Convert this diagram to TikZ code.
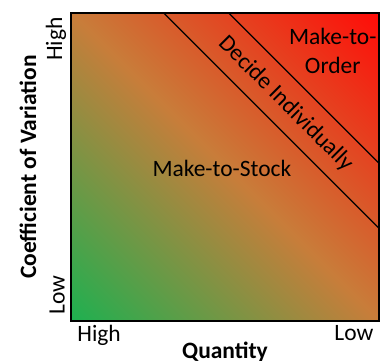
\documentclass[tikz,border=0pt]{standalone}
\usepackage{fontspec}
\setmainfont{Carlito}
\definecolor{mtsgreen}{RGB}{30,176,80}
\definecolor{mtsmid}{RGB}{200,125,58}
\definecolor{mtored}{RGB}{255,12,8}
\pgfdeclarehorizontalshading{cvshade}{100bp}{color(0bp)=(mtsgreen); color(14.6bp)=(mtsgreen); color(50bp)=(mtsmid); color(85.4bp)=(mtored); color(100bp)=(mtored)}
\tikzset{
  lbl/.style={font=\fontsize{23.6}{29}\selectfont, inner sep=0pt},
  axlbl/.style={font=\fontsize{23.6}{29}\selectfont\bfseries, inner sep=0pt},
}
\begin{document}
\begin{tikzpicture}[x=1.36cm, y=1.36cm]
  \useasboundingbox (-1.844,-1.013) rectangle (8.104,8.338);
  \shade[shading=cvshade, shading angle=45] (0,0) rectangle (8,8);
  % band borders
  \coordinate (b1top) at (2.41,8);
  \coordinate (b1rgt) at (8,2.41);
  \coordinate (b2top) at (4.10,8);
  \coordinate (b2rgt) at (8,4.10);
  \draw[line width=1.2pt] (b1top) -- (b1rgt);
  \draw[line width=1.2pt] (b2top) -- (b2rgt);
  \draw[line width=1.5pt] (0,0) rectangle (8,8);
  % regions
  \node[lbl] (mts) at (3.92,3.97) {Make-to-Stock};
  \node[lbl, align=center] (mto) at (6.8,7.02) {Make-to-\\Order};
  \node[lbl, rotate=-45] (dec) at (5.58,5.64) {Decide Individually};
  % axes
  \node[lbl, rotate=90] (yhigh) at (-0.39,7.32) {High};
  \node[lbl, rotate=90] (ylow) at (-0.36,0.68) {Low};
  \node[lbl] (xhigh) at (0.73,-0.36) {High};
  \node[lbl] (xlow) at (7.35,-0.31) {Low};
  \node[axlbl] (xname) at (4.0,-0.81) {Quantity};
  \node[axlbl, rotate=90] (yname) at (-1.12,4.0) {Coefficient of Variation};
\end{tikzpicture}
\end{document}
